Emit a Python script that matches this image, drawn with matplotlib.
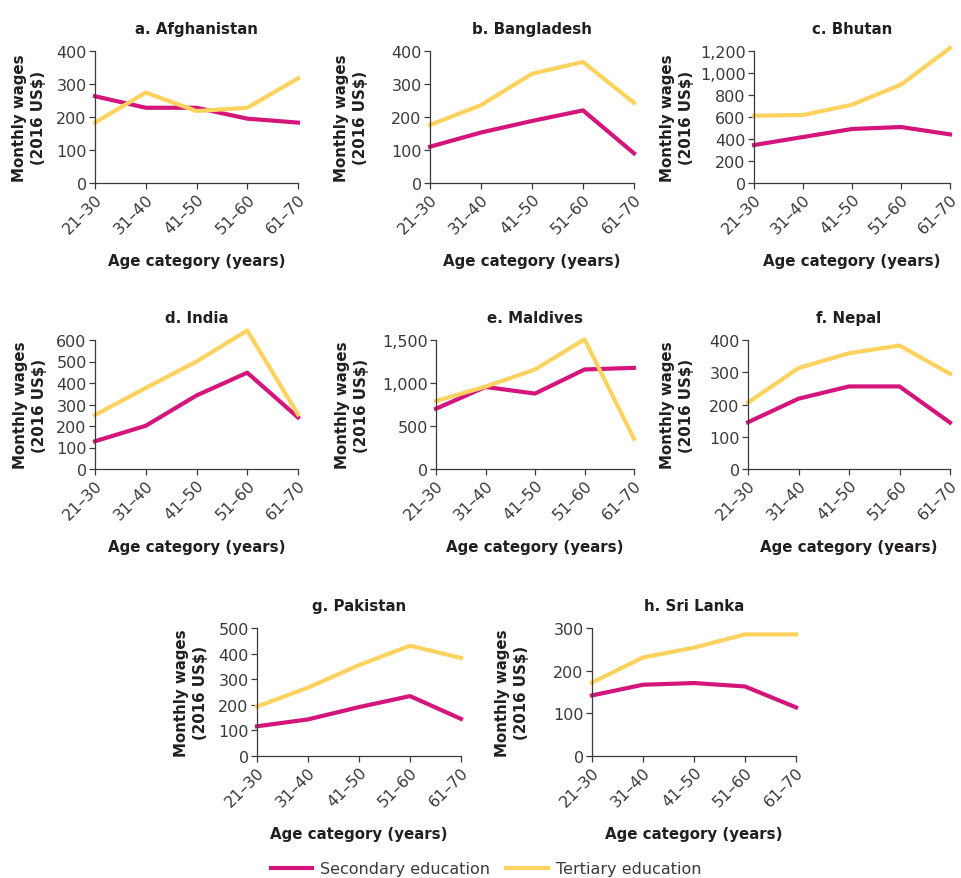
import matplotlib
matplotlib.use("Agg")
import matplotlib.pyplot as plt
from matplotlib.ticker import FuncFormatter
from matplotlib.lines import Line2D

plt.rcParams['font.family'] = ['DejaVu Sans']

ages = ["21–30", "31–40", "41–50", "51–60", "61–70"]

titles = ["a. Afghanistan", "b. Bangladesh", "c. Bhutan", "d. India",
          "e. Maldives", "f. Nepal", "g. Pakistan", "h. Sri Lanka"]

secondary = [
    [263, 228, 228, 195, 183],
    [110, 153, 188, 220, 90],
    [345, 418, 491, 509, 442],
    [129, 201, 342, 448, 240],
    [701, 954, 877, 1157, 1176],
    [145, 218, 256, 256, 144],
    [116, 143, 191, 234, 145],
    [142, 167, 171, 163, 114],
]
tertiary = [
    [183, 274, 218, 228, 317],
    [176, 236, 331, 367, 243],
    [612, 618, 712, 894, 1227],
    [251, 377, 500, 644, 254],
    [791, 958, 1157, 1508, 351],
    [206, 313, 359, 383, 295],
    [193, 267, 355, 431, 383],
    [172, 231, 254, 285, 285],
]
y_max = [400, 400, 1200, 600, 1500, 400, 500, 300]
y_step = [100, 100, 200, 100, 500, 100, 100, 100]

PINK = "#D4157C"
YELLOW = "#FDD25F"
DARK = "#3A3A3A"
INK = "#231F20"

W, H = 961, 879
fig = plt.figure(figsize=(W / 100, H / 100), dpi=100)

# axes boxes in pixels: left, right, top, bottom, ylabel offset
boxes = [
    (95, 298, 52, 184, 66),
    (430, 634, 52, 184, 79),
    (754, 950, 52, 184, 77),
    (95, 298, 341, 470, 65),
    (436, 634, 341, 470, 84),
    (748, 950, 341, 470, 71),
    (257, 461, 629, 757, 66),
    (592, 796, 629, 757, 80),
]

for i, (l, r, t, b, yoff) in enumerate(boxes):
    ax = fig.add_axes([l / W, 1 - b / H, (r - l) / W, (b - t) / H])
    xs = range(len(ages))
    ax.plot(xs, secondary[i], color=PINK, lw=3, clip_on=False)
    ax.plot(xs, tertiary[i], color=YELLOW, lw=3, clip_on=False)
    ax.set_xlim(0, 4)
    ax.set_ylim(0, y_max[i])
    ax.set_yticks(range(0, y_max[i] + 1, y_step[i]))
    ax.yaxis.set_major_formatter(FuncFormatter(lambda v, p: f"{int(v):,}"))
    ax.set_xticks(list(xs))
    ax.set_xticklabels(ages, rotation=45, ha='right', rotation_mode='anchor')
    for s in ['top', 'right']:
        ax.spines[s].set_visible(False)
    for s in ['left', 'bottom']:
        ax.spines[s].set_color(DARK)
        ax.spines[s].set_linewidth(0.9)
    ax.tick_params(colors=DARK, labelcolor=DARK, length=4, width=0.9,
                   labelsize=11.5, pad=2)
    ax.set_title(titles[i], fontsize=10.8, fontweight='bold', color=INK, pad=13)
    ax.set_ylabel("Monthly wages\n(2016 US\\$)", fontsize=10.8, fontweight='bold',
                  color=INK, linespacing=1.4, va='center', ha='center')
    ax.yaxis.set_label_coords(-yoff / (r - l), 0.5)
    ax.set_xlabel("Age category (years)", fontsize=10.8, fontweight='bold',
                  color=INK, va='center')
    ax.xaxis.set_label_coords(0.5, -78 / (b - t))

handles = [Line2D([], [], color=PINK, lw=3), Line2D([], [], color=YELLOW, lw=3)]
fig.legend(handles, ["Secondary education", "Tertiary education"], loc='center',
           bbox_to_anchor=(486 / W, 1 - 870 / H), ncol=2, frameon=False,
           handlelength=2.6, handletextpad=0.5, columnspacing=1.0,
           prop={'size': 11.5}, labelcolor=DARK)

plt.savefig("out.png", dpi=100)
